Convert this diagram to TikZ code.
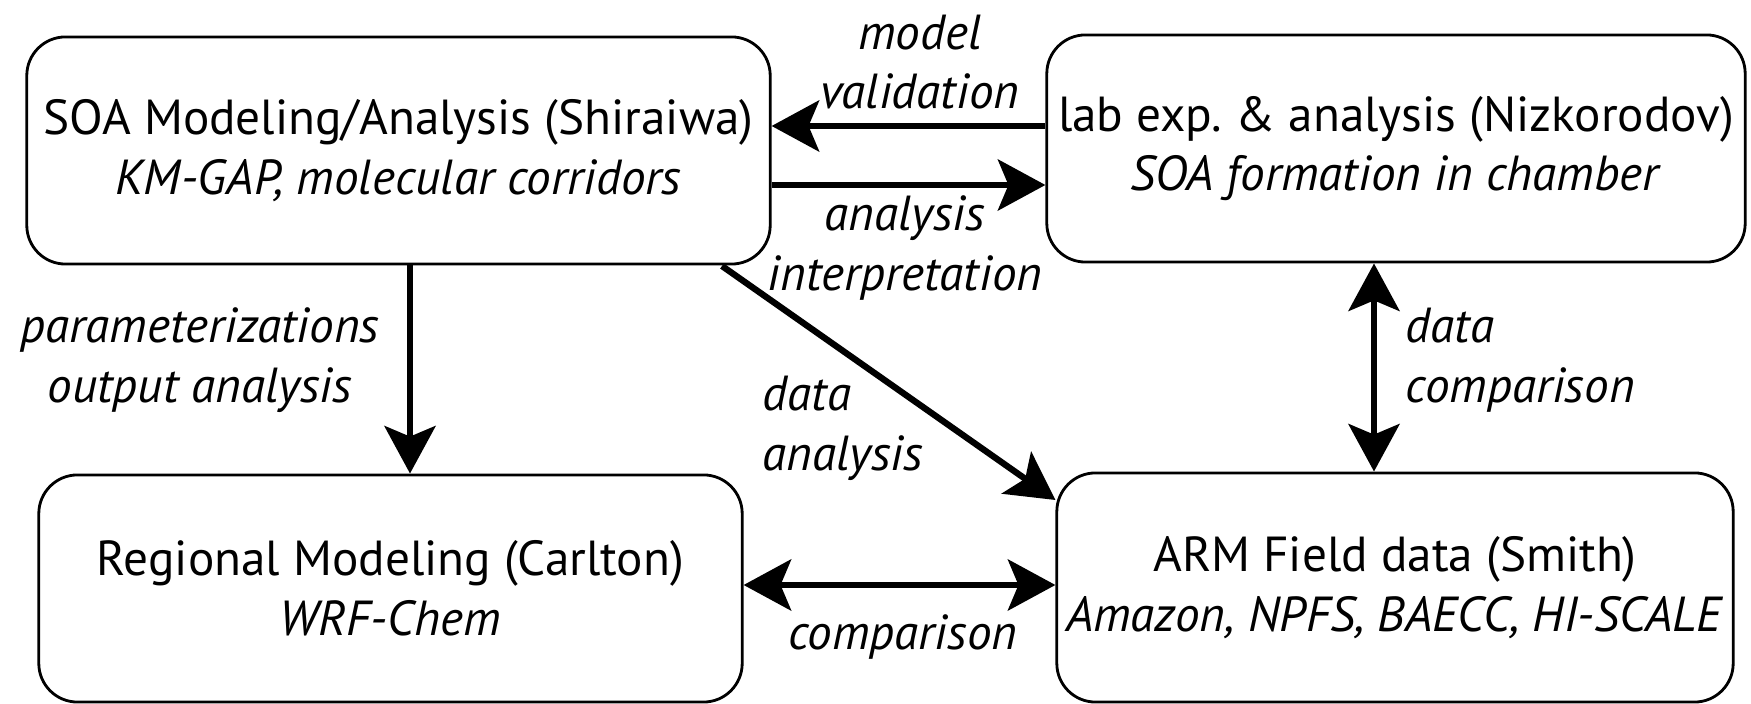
\documentclass[tikz,border=0pt]{standalone}
\usepackage{fontspec}
\setmainfont{PT Sans}
\usetikzlibrary{arrows.meta}
\frenchspacing
\begin{document}
\begin{tikzpicture}[x=0.01cm,y=-0.01cm,
  box/.style={draw, line width=0.8pt, rounded corners=11pt, inner sep=0pt, align=center,
    font=\fontsize{14}{17}\selectfont},
  lbl/.style={font=\fontsize{14}{17}\selectfont\itshape, inner sep=0pt},
  arr/.style={line width=1.8pt, -{Stealth[length=13.5pt,width=14.5pt,inset=3pt]}},
  darr/.style={line width=1.8pt, {Stealth[length=13.5pt,width=14.5pt,inset=3pt]}-{Stealth[length=13.5pt,width=14.5pt,inset=3pt]}}
]
\useasboundingbox (0,0) rectangle (1751,704);

\node[box, minimum width=7.43cm, minimum height=2.27cm] (soa) at (398.5,150.5)
  {SOA Modeling/Analysis (Shiraiwa)\\ \textit{KM-GAP, molecular corridors}};
\node[box, minimum width=6.98cm, minimum height=2.27cm] (lab) at (1396,148.5)
  {lab exp.\ \& analysis (Nizkorodov)\\ \textit{SOA formation in chamber}};
\node[box, minimum width=7.03cm, minimum height=2.27cm] (reg) at (390.5,588.5)
  {Regional Modeling (Carlton)\\ \textit{WRF-Chem}};
\node[box, minimum width=6.76cm, minimum height=2.29cm] (arm) at (1395,587.5)
  {ARM Field data (Smith)\\ \textit{Amazon, NPFS, BAECC, HI-SCALE}};

\coordinate (mvA) at (lab.west |- 0,126);
\coordinate (mvB) at (soa.east |- 0,126);
\draw[arr] (mvA) -- (mvB);
\coordinate (aiA) at (soa.east |- 0,185);
\coordinate (aiB) at (lab.west |- 0,185);
\draw[arr] (aiA) -- (aiB);
\draw[arr] (soa.south -| 410,0) -- (reg.north -| 410,0);
\coordinate (dgA) at (722,266);
\coordinate (dgB) at (arm.west |- 0,500);
\draw[arr] (dgA) -- (dgB);
\draw[darr] (reg.east |- 0,585) -- (arm.west |- 0,585);
\draw[darr] (lab.south -| 1374,0) -- (arm.north -| 1374,0);

\node[lbl, align=center] (l1) at (920,62) {model\\validation};
\node[lbl, align=center] (l2) at (905,248) {analysis\\interpretation};
\node[lbl, align=left, anchor=west] (l3) at (762,428) {data\\analysis};
\node[lbl, align=center] (l4) at (200,360) {parameterizations\\output analysis};
\node[lbl, align=left, anchor=west] (l5) at (1405,360) {data\\comparison};
\node[lbl] (l6) at (903,637) {comparison};
\end{tikzpicture}
\end{document}
